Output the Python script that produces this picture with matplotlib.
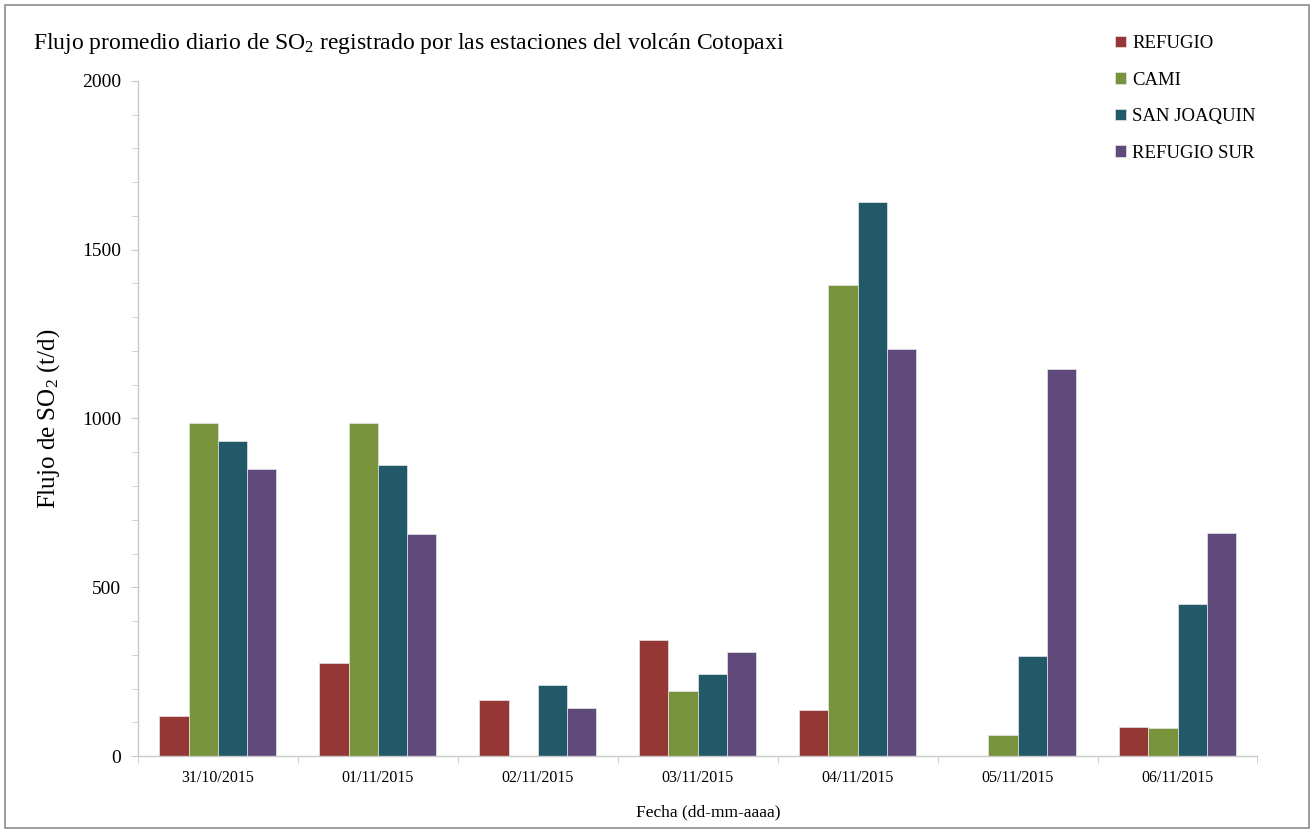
import numpy as np
import matplotlib.pyplot as plt
from matplotlib.patches import Rectangle
from matplotlib.ticker import MultipleLocator

fechas = ["31/10/2015", "01/11/2015", "02/11/2015", "03/11/2015",
          "04/11/2015", "05/11/2015", "06/11/2015"]
refugio     = [119, 276, 166, 344, 136, 0, 86]
cami        = [987, 987, 0, 193, 1396, 63, 84]
san_joaquin = [933, 862, 209, 242, 1641, 295, 449]
refugio_sur = [850, 658, 142, 309, 1206, 1147, 661]

series = [("REFUGIO", refugio, "#953735"),
          ("CAMI", cami, "#77933C"),
          ("SAN JOAQUIN", san_joaquin, "#215968"),
          ("REFUGIO SUR", refugio_sur, "#604A7B")]

plt.rcParams["font.family"] = ["Liberation Serif", "DejaVu Serif"]
plt.rcParams["mathtext.fontset"] = "custom"
plt.rcParams["mathtext.rm"] = "Liberation Serif"
plt.rcParams["mathtext.default"] = "rm"


def main():
    fig = plt.figure(figsize=(13.14, 8.33), dpi=100)
    fig.patches.append(Rectangle((0.004, 0.006), 0.992, 0.988, transform=fig.transFigure,
                                 fill=False, edgecolor="#8c8c8c", linewidth=1.2))
    ax = fig.add_axes([0.105, 0.0924, 0.852, 0.8104])

    x = np.arange(len(fechas))
    w = 0.183
    for i, (name, vals, col) in enumerate(series):
        ax.bar(x + (i - 1.5) * w, vals, width=w, color=col, label=name,
               edgecolor="#e6e6e6", linewidth=0.5)

    ax.set_xlim(-0.5, len(fechas) - 0.5)
    ax.set_ylim(0, 2000)
    ax.yaxis.set_major_locator(MultipleLocator(500))
    ax.yaxis.set_minor_locator(MultipleLocator(100))
    ax.set_xticks(x)
    ax.set_xticklabels(fechas, fontsize=11.5)
    ax.set_xticks(np.arange(-0.5, len(fechas)), minor=True)
    ax.tick_params(axis="x", which="major", length=0, pad=10)
    ax.tick_params(axis="x", which="minor", length=5, color="#c8c8c8")
    ax.tick_params(axis="y", which="major", labelsize=14, length=5, color="#c8c8c8", pad=7)
    ax.tick_params(axis="y", which="minor", length=4, color="#c8c8c8")

    for s in ["top", "right"]:
        ax.spines[s].set_visible(False)
    for s in ["left", "bottom"]:
        ax.spines[s].set_color("#c8c8c8")
        ax.spines[s].set_linewidth(1.0)

    ax.set_ylabel("Flujo de SO$_2$ (t/d)", fontsize=18)
    ax.yaxis.set_label_coords(-0.068, 0.5)
    ax.set_xlabel("Fecha (dd-mm-aaaa)", fontsize=12.5)
    ax.xaxis.set_label_coords(0.509, -0.071)

    fig.text(0.025, 0.948, "Flujo promedio diario de SO$_2$ registrado por las estaciones del volcán Cotopaxi",
             fontsize=17, va="center", ha="left")

    ax.legend(loc="upper left", bbox_to_anchor=(0.836, 0.978), bbox_transform=fig.transFigure,
              frameon=False, fontsize=13.5, handlelength=0.55, handleheight=0.55,
              handletextpad=0.35, labelspacing=1.04)

    fig.savefig("out.png", dpi=100)


if __name__ == "__main__":
    main()
